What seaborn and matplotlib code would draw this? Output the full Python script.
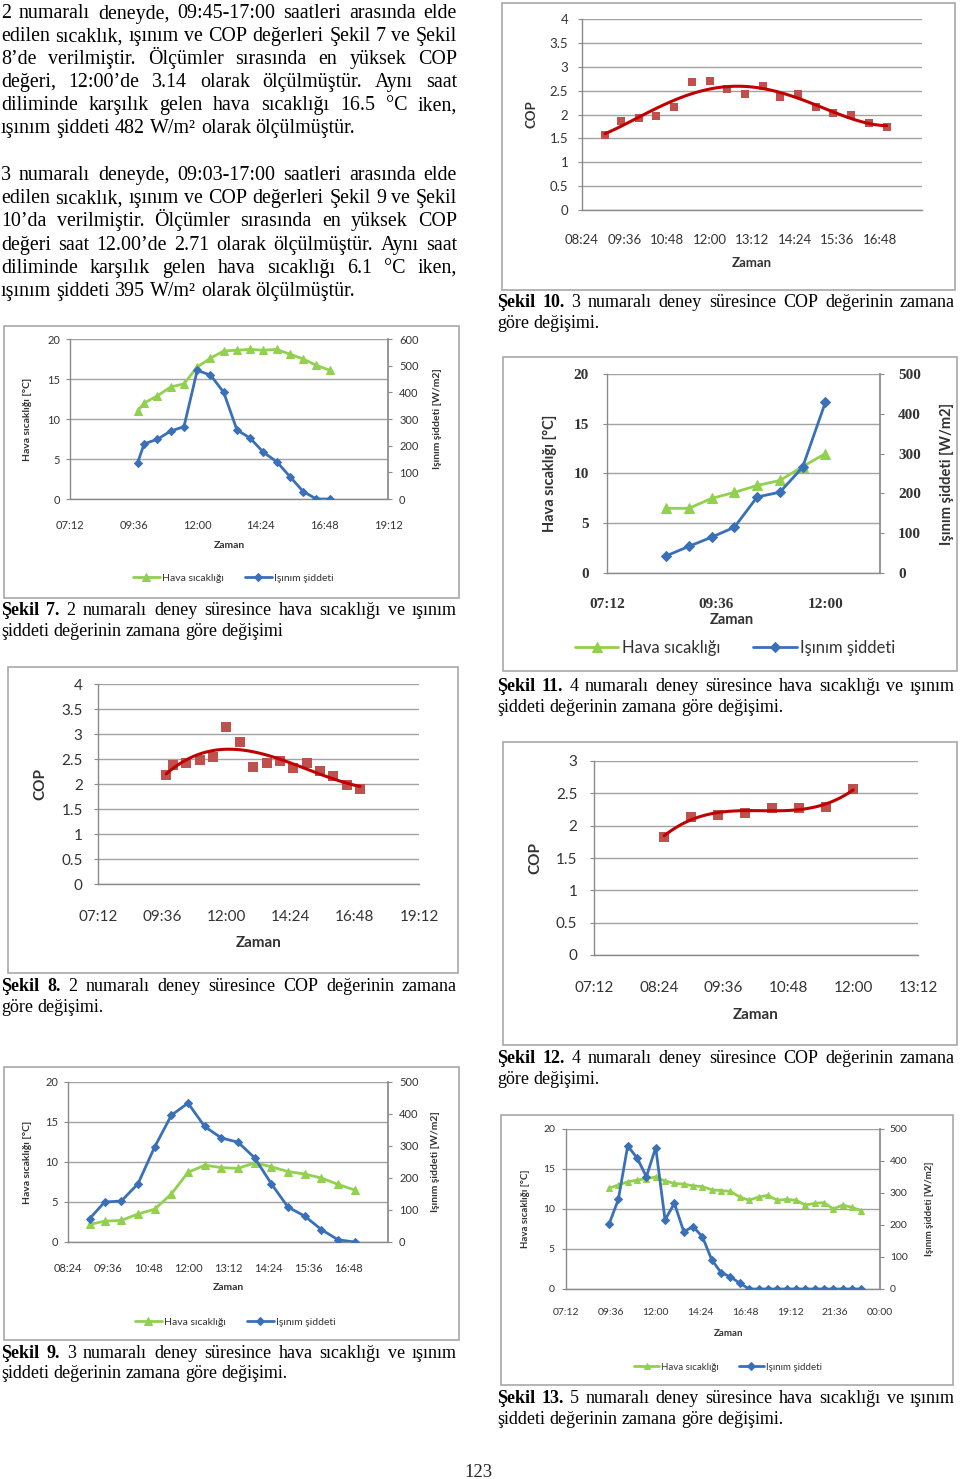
import numpy as np
import pandas as pd
import matplotlib
matplotlib.use("Agg")
import matplotlib.pyplot as plt
import seaborn as sns
from matplotlib.patches import Rectangle

# ============================================================
# Data (read from the page)
# ============================================================

# deney 2 (Sekil 7 / Sekil 8)
t2 = ["09:45", "10:00", "10:30", "11:00", "11:30", "12:00", "12:30", "13:00",
      "13:30", "14:00", "14:30", "15:00", "15:30", "16:00", "16:30", "17:00"]
temp2 = [11.0, 12.0, 12.9, 14.0, 14.4, 16.5, 17.6, 18.5,
         18.6, 18.7, 18.6, 18.7, 18.1, 17.5, 16.7, 16.1]
rad2 = [136, 207, 224, 255, 271, 482, 465, 400,
        259, 228, 175, 140, 84, 28, 0, 0]
cop2 = [2.18, 2.38, 2.43, 2.48, 2.55, 3.14, 2.85, 2.35,
        2.43, 2.46, 2.33, 2.43, 2.26, 2.17, 1.98, 1.91]

# deney 3 (Sekil 9 / Sekil 10)
t3 = ["09:03", "09:30", "10:00", "10:30", "11:00", "11:30", "12:00", "12:30", "13:00",
      "13:30", "14:00", "14:30", "15:00", "15:30", "16:00", "16:30", "17:00"]
temp3 = [2.2, 2.6, 2.7, 3.5, 4.1, 6.0, 8.7, 9.6, 9.3,
         9.2, 9.9, 9.4, 8.8, 8.5, 8.0, 7.2, 6.5]
rad3 = [73, 125, 128, 182, 297, 396, 434, 361, 325,
        312, 263, 182, 109, 81, 39, 7, 0]
cop3 = [1.57, 1.87, 1.92, 1.96, 2.15, 2.69, 2.71, 2.53, 2.43,
        2.60, 2.36, 2.43, 2.15, 2.03, 1.99, 1.83, 1.73]

# deney 4 (Sekil 11 / Sekil 12)
t4 = ["08:30", "09:00", "09:30", "10:00", "10:30", "11:00", "11:30", "12:00"]
temp4 = [6.5, 6.5, 7.5, 8.1, 8.8, 9.3, 10.7, 12.0]
rad4 = [43, 67, 90, 115, 191, 203, 266, 429]
cop4 = [1.83, 2.14, 2.16, 2.20, 2.28, 2.27, 2.29, 2.57]

# deney 5 (Sekil 13)
t5 = ["09:30", "10:00", "10:30", "11:00", "11:30", "12:00", "12:30", "13:00",
      "13:30", "14:00", "14:30", "15:00", "15:30", "16:00", "16:30", "17:00",
      "17:30", "18:00", "18:30", "19:00", "19:30", "20:00", "20:30", "21:00",
      "21:30", "22:00", "22:30", "23:00"]
temp5 = [12.6, 13.0, 13.4, 13.6, 13.8, 14.0, 13.5, 13.2,
         13.1, 12.9, 12.8, 12.4, 12.3, 12.2, 11.5, 11.1,
         11.5, 11.7, 11.1, 11.2, 11.1, 10.5, 10.7, 10.8,
         10.0, 10.5, 10.2, 9.8]
rad5 = [202, 280, 447, 410, 351, 442, 216, 268,
        179, 195, 163, 91, 51, 38, 18, 0,
        0, 0, 0, 0, 0, 0, 0, 0,
        0, 0, 0, 0]

legend_labels = ["Hava sıcaklığı", "Işınım şiddeti"]

para1 = [
    "2 numaralı deneyde, 09:45-17:00 saatleri arasında elde",
    "edilen sıcaklık, ışınım ve COP değerleri Şekil 7 ve Şekil",
    "8’de verilmiştir. Ölçümler sırasında en yüksek COP",
    "değeri, 12:00’de 3.14 olarak ölçülmüştür.  Aynı saat",
    "diliminde karşılık gelen hava sıcaklığı 16.5 °C  iken,",
    "ışınım şiddeti 482 W/m² olarak ölçülmüştür.",
]
para2 = [
    "3 numaralı deneyde, 09:03-17:00 saatleri arasında elde",
    "edilen sıcaklık, ışınım ve COP değerleri Şekil 9 ve Şekil",
    "10’da verilmiştir. Ölçümler sırasında en yüksek COP",
    "değeri saat 12.00’de 2.71 olarak ölçülmüştür. Aynı saat",
    "diliminde karşılık gelen hava sıcaklığı 6.1 °C iken,",
    "ışınım şiddeti 395 W/m² olarak ölçülmüştür.",
]

# ============================================================
# Figure setup
# ============================================================

sns.set_theme(style="white")
plt.rcParams["font.family"] = ["Lato", "DejaVu Sans"]

W, H = 960, 1479
fig = plt.figure(figsize=(9.6, 14.79), dpi=100)
fig.patch.set_facecolor("white")
renderer = fig.canvas.get_renderer()

SERIF = ["Liberation Serif", "DejaVu Serif"]
GREEN = "#92D050"
BLUE = "#3A70B8"
RED_PT = "#C0504D"
RED_LN = "#C00000"
GRID = "#a3a3a3"
AXC = "#8a8a8a"
TXT = "#333333"


def hours(times):
    return np.asarray(pd.to_timedelta([t + ":00" for t in times]).total_seconds() / 3600)


def hhmm(h, pos=None):
    m = int(round(h * 60))
    return f"{(m // 60) % 24:02d}:{m % 60:02d}"


def px_axes(x0, y0, x1, y1):
    return fig.add_axes([x0 / W, 1 - y1 / H, (x1 - x0) / W, (y1 - y0) / H])


def frame(x0, y0, x1, y1):
    fig.add_artist(Rectangle((x0 / W, 1 - y1 / H), (x1 - x0) / W, (y1 - y0) / H,
                             transform=fig.transFigure, fill=False,
                             ec="#a8a8a8", lw=1.2))


def ftext(x, y, s, **kw):
    fig.text(x / W, 1 - y / H, s, **kw)


def text_w(s, size, weight="normal"):
    t = fig.text(0, 0, s, fontsize=size, family=SERIF, weight=weight)
    w = t.get_window_extent(renderer=renderer).width
    t.remove()
    return w


def put_line(s, x0, x1, y, size=14.4, n_bold=0, justify=True):
    words = s.split()
    weights = ["bold" if i < n_bold else "normal" for i in range(len(words))]
    widths = [text_w(w, size, wt) for w, wt in zip(words, weights)]
    if justify and len(words) > 1:
        gap = (x1 - x0 - sum(widths)) / (len(words) - 1)
    else:
        gap = text_w("a a", size) - text_w("aa", size)
    x = x0
    for w, wt, ww in zip(words, weights, widths):
        ftext(x, y, w, fontsize=size, family=SERIF, weight=wt,
              ha="left", va="baseline", color="black")
        x += ww + gap


def style_axes(ax, xlim, xstep, xlast, ylim, ystep, fs, xpad, ypad, yfmt="{:g}"):
    ax.set_xlim(*xlim)
    ax.set_ylim(*ylim)
    ax.set_xticks(np.arange(xlim[0], xlast + 1e-6, xstep))
    ax.xaxis.set_major_formatter(matplotlib.ticker.FuncFormatter(hhmm))
    ax.set_yticks(np.arange(ylim[0], ylim[1] + 1e-6, ystep))
    ax.yaxis.set_major_formatter(matplotlib.ticker.FuncFormatter(lambda v, p: yfmt.format(v)))
    ax.yaxis.grid(True, color=GRID, lw=1)
    ax.xaxis.grid(False)
    ax.set_axisbelow(True)
    for side in ["top", "right"]:
        ax.spines[side].set_visible(False)
    for side in ["left", "bottom"]:
        ax.spines[side].set_color(AXC)
        ax.spines[side].set_linewidth(1)
    ax.tick_params(axis="x", length=0, pad=xpad, labelsize=fs, labelcolor=TXT)
    ax.tick_params(axis="y", length=3, width=0.8, color=AXC, pad=ypad,
                   labelsize=fs, labelcolor=TXT, left=True)
    ax.set_xlabel("")
    ax.set_ylabel("")
    ax.patch.set_alpha(0)


def dual_chart(box, plot, t, temp, rad, xlim, xstep, xlast, rmax, fs, fs_lab,
               fs_leg, xpad, ypad, rpad, zaman_xy, leg_xy, lab_x, rlab_x,
               ms=5, lw=2.0, serif_ticks=False):
    frame(*box)
    ax = px_axes(*plot)
    x = hours(t)
    sns.lineplot(x=x, y=temp, ax=ax, color=GREEN, marker="^", markersize=ms,
                 markeredgecolor=GREEN, lw=lw, legend=False)
    style_axes(ax, xlim, xstep, xlast, (0, 20), 5, fs, xpad, ypad)
    ax2 = ax.twinx()
    sns.lineplot(x=x, y=rad, ax=ax2, color=BLUE, marker="D", markersize=ms * 0.8,
                 markeredgecolor=BLUE, lw=lw, legend=False)
    ax2.set_ylim(0, rmax)
    ax2.set_yticks(np.arange(0, rmax + 1, 100))
    ax2.grid(False)
    for side in ["top", "left", "bottom"]:
        ax2.spines[side].set_visible(False)
    ax2.spines["right"].set_color(AXC)
    ax2.tick_params(axis="y", right=True, length=3, width=0.8, color=AXC,
                    pad=rpad, labelsize=fs, labelcolor=TXT)
    ax2.set_ylabel("")
    if serif_ticks:
        for lab in ax.get_xticklabels() + ax.get_yticklabels() + ax2.get_yticklabels():
            lab.set_family(SERIF)
            lab.set_weight("bold")
    ycen = (plot[1] + plot[3]) / 2
    ftext(lab_x, ycen, "Hava sıcaklığı [°C]", rotation=90, ha="center", va="center",
          fontsize=fs_lab, weight="bold", color=TXT)
    ftext(rlab_x, ycen, "Işınım şiddeti [W/m2]", rotation=90, ha="center", va="center",
          fontsize=fs_lab, weight="bold", color=TXT)
    ftext(zaman_xy[0], zaman_xy[1], "Zaman", ha="center", va="center",
          fontsize=fs_lab, weight="bold", color=TXT)
    fig.legend([ax.lines[0], ax2.lines[0]], legend_labels, loc="center",
               bbox_to_anchor=(leg_xy[0] / W, 1 - leg_xy[1] / H), ncol=2,
               frameon=False, fontsize=fs_leg, handlelength=2.6,
               columnspacing=2.0, handletextpad=0.2, labelcolor=TXT)
    return ax, ax2


def cop_chart(box, plot, t, cop, xlim, xstep, xlast, ytop, order, fs, fs_lab,
              xpad, ypad, zaman_y, lab_x, ms=32):
    frame(*box)
    ax = px_axes(*plot)
    sns.regplot(x=hours(t), y=cop, order=order, ci=None, ax=ax, marker="s",
                scatter_kws=dict(color=RED_PT, s=ms, linewidths=0, alpha=1),
                line_kws=dict(color=RED_LN, lw=2.2))
    style_axes(ax, xlim, xstep, xlast, (0, ytop), 0.5, fs, xpad, ypad)
    ftext(lab_x, (plot[1] + plot[3]) / 2, "COP", rotation=90, ha="center", va="center",
          fontsize=fs_lab, weight="bold", color=TXT)
    ftext((plot[0] + plot[2]) / 2, zaman_y, "Zaman", ha="center", va="center",
          fontsize=fs_lab, weight="bold", color=TXT)
    return ax


# ============================================================
# Body text
# ============================================================

for i, line in enumerate(para1):
    put_line(line, 1, 457, 18.5 + 22.9 * i, justify=(i < len(para1) - 1))
for i, line in enumerate(para2):
    put_line(line, 1, 457, 180 + 23.2 * i, justify=(i < len(para2) - 1))

# ============================================================
# Charts
# ============================================================

# Sekil 7
dual_chart((4, 326, 459, 598), (70, 339, 388, 499), t2, temp2, rad2,
           (7.2, 19.2), 2.4, 19.2, 600, fs=8, fs_lab=7.5, fs_leg=7.5,
           xpad=15, ypad=4, rpad=5, zaman_xy=(229, 545), leg_xy=(233, 578),
           lab_x=28, rlab_x=437, ms=5.5)

# Sekil 8
cop_chart((8, 667, 458, 973), (98, 684, 419, 884), t2, cop2,
          (7.2, 19.2), 2.4, 19.2, 4, order=3, fs=11, fs_lab=11,
          xpad=19, ypad=8, zaman_y=943, lab_x=40, ms=42)

# Sekil 9
dual_chart((4, 1067, 459, 1340), (68, 1082, 388, 1242), t3, temp3, rad3,
           (8.4, 18.0), 1.2, 16.8, 500, fs=8, fs_lab=7.5, fs_leg=7.5,
           xpad=15, ypad=4, rpad=5, zaman_xy=(228, 1288), leg_xy=(235, 1322),
           lab_x=28, rlab_x=435, ms=5.5)

# Sekil 10
cop_chart((502, 3, 955, 290), (582, 19, 922, 210), t3, cop3,
          (8.4, 18.0), 1.2, 16.8, 4, order=4, fs=9.5, fs_lab=9.5,
          xpad=17, ypad=7, zaman_y=263, lab_x=532, ms=36)

# Sekil 11
dual_chart((503, 357, 957, 671), (607, 374, 880, 573), t4, temp4, rad4,
           (7.2, 13.2), 2.4, 12.0, 500, fs=11, fs_lab=10.5, fs_leg=12,
           xpad=18, ypad=10, rpad=10, zaman_xy=(732, 620), leg_xy=(735, 648),
           lab_x=550, rlab_x=947, ms=7, serif_ticks=True)

# Sekil 12
cop_chart((503, 742, 957, 1045), (594, 761, 918, 955), t4, cop4,
          (7.2, 13.2), 1.2, 13.2, 3, order=3, fs=11, fs_lab=11,
          xpad=19, ypad=9, zaman_y=1015, lab_x=535, ms=42)

# Sekil 13
dual_chart((501, 1115, 953, 1385), (566, 1129, 880, 1289), t5, temp5, rad5,
           (7.2, 24.0), 2.4, 24.0, 500, fs=7.5, fs_lab=7, fs_leg=7,
           xpad=14, ypad=5, rpad=4, zaman_xy=(729, 1333), leg_xy=(728, 1367),
           lab_x=525, rlab_x=930, ms=5)

# ============================================================
# Captions
# ============================================================

CS = 13.0
put_line("Şekil 7. 2 numaralı deney süresince hava sıcaklığı ve ışınım", 1, 457, 615, CS, 2)
put_line("şiddeti değerinin zamana göre değişimi", 1, 457, 636, CS, justify=False)
put_line("Şekil 8. 2 numaralı deney süresince COP değerinin zamana", 1, 457, 991, CS, 2)
put_line("göre değişimi.", 1, 457, 1012, CS, justify=False)
put_line("Şekil 9. 3 numaralı deney süresince hava sıcaklığı ve ışınım", 1, 457, 1358, CS, 2)
put_line("şiddeti değerinin zamana göre değişimi.", 1, 457, 1378, CS, justify=False)
put_line("Şekil 10. 3 numaralı deney süresince COP değerinin zamana", 497, 955, 307, CS, 2)
put_line("göre değişimi.", 497, 955, 328, CS, justify=False)
put_line("Şekil 11. 4 numaralı deney süresince hava sıcaklığı ve ışınım", 497, 955, 691, CS, 2)
put_line("şiddeti değerinin zamana göre değişimi.", 497, 955, 712, CS, justify=False)
put_line("Şekil 12. 4 numaralı deney süresince COP değerinin zamana", 497, 955, 1063, CS, 2)
put_line("göre değişimi.", 497, 955, 1084, CS, justify=False)
put_line("Şekil 13. 5 numaralı deney süresince hava sıcaklığı ve ışınım", 497, 955, 1403, CS, 2)
put_line("şiddeti değerinin zamana göre değişimi.", 497, 955, 1424, CS, justify=False)

ftext(478, 1477, "123", ha="center", va="baseline", fontsize=13.5, family=SERIF)

fig.savefig("out.png", dpi=100, facecolor="white")
